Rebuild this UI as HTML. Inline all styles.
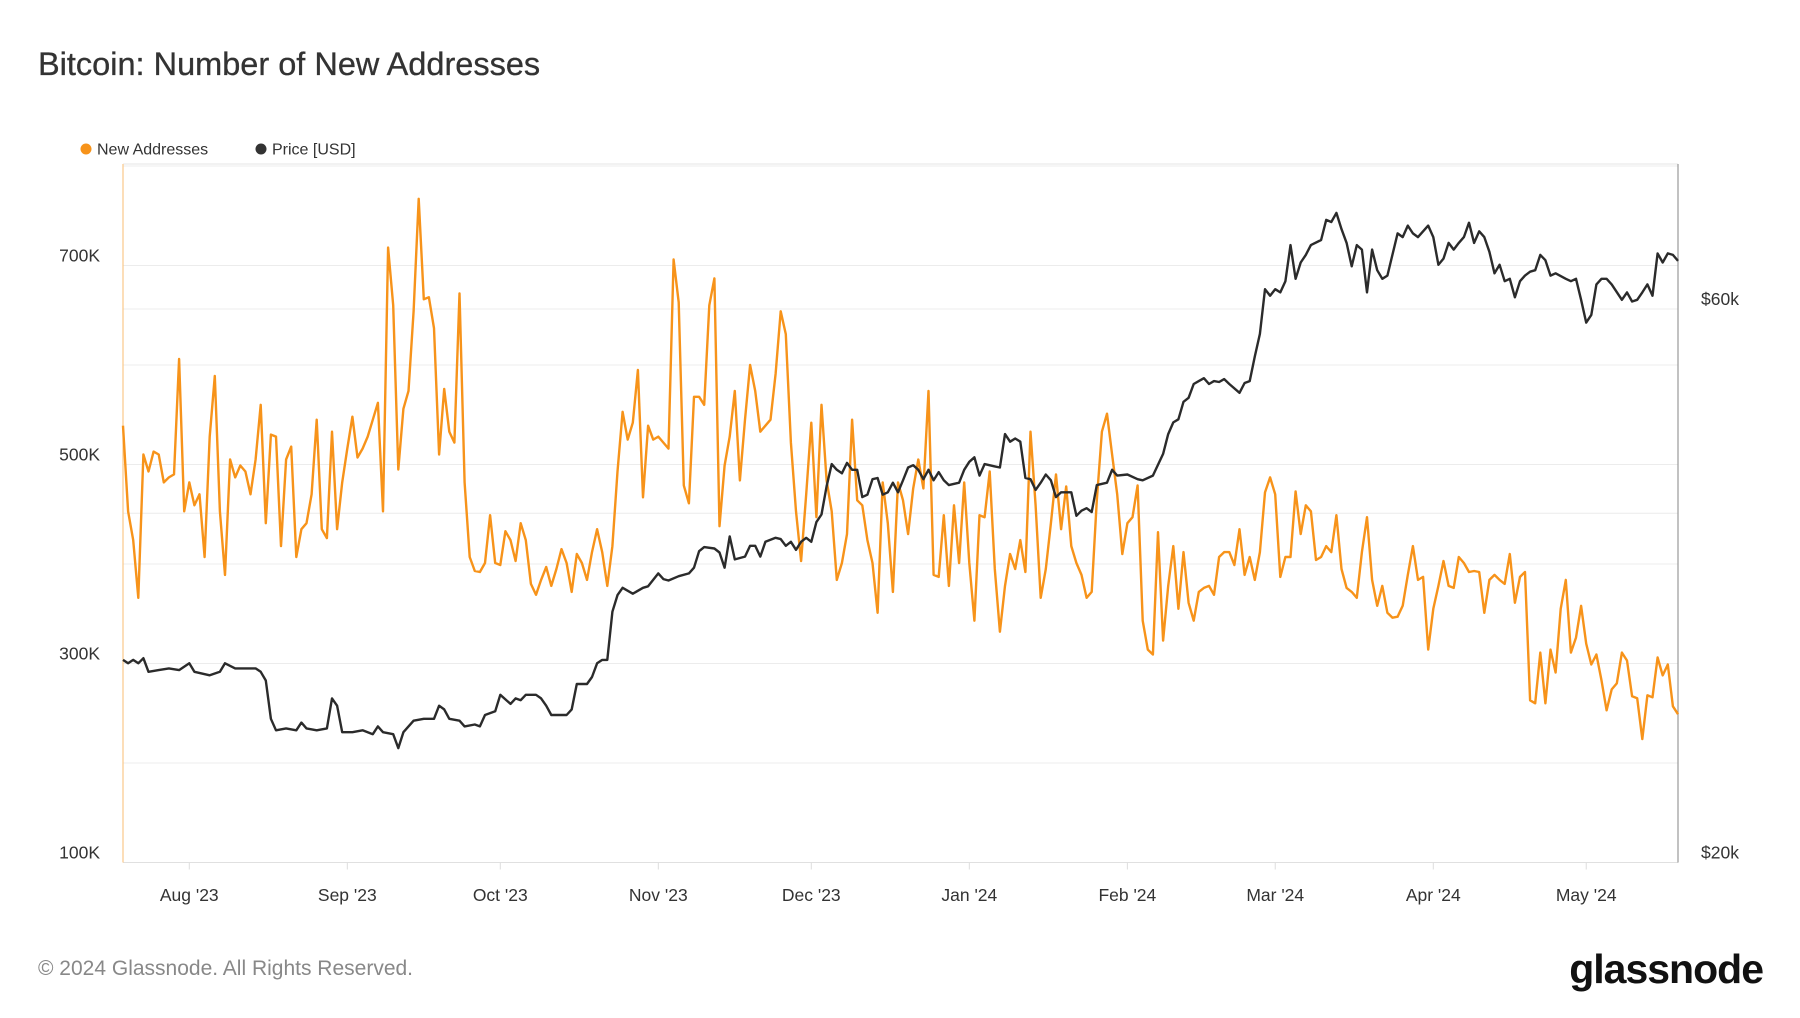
<!DOCTYPE html>
<html><head><meta charset="utf-8"><style>
html,body{margin:0;padding:0;background:#fff;}
body{width:1800px;height:1013px;overflow:hidden;font-family:"Liberation Sans",sans-serif;}
</style></head><body>
<svg id="chart" width="1800" height="1013" xmlns="http://www.w3.org/2000/svg" font-family="Liberation Sans, sans-serif">
<text x="38" y="75" font-size="32.5" fill="#333" stroke="#333" stroke-width="0.3">Bitcoin: Number of New Addresses</text>
<g>
<circle cx="86" cy="149" r="5.5" fill="#f7931a"/>
<text x="97" y="154.5" font-size="16" fill="#333">New Addresses</text>
<circle cx="261" cy="149" r="5.5" fill="#333"/>
<text x="272" y="154.5" font-size="16" fill="#333">Price [USD]</text>
</g>
<g id="grid"></g>
<g id="axes"></g>
<g id="series"></g>
<text x="38" y="975" font-size="21" fill="#888">© 2024 Glassnode. All Rights Reserved.</text>
<text x="1763" y="983" text-anchor="end" font-size="41" font-weight="bold" letter-spacing="-1" fill="#111">glassnode</text>
</svg>
<script>
const totalDays = 305;
const monthLabels = ["Aug '23","Sep '23","Oct '23","Nov '23","Dec '23","Jan '24","Feb '24","Mar '24","Apr '24","May '24"];
const monthDays = [13,44,74,105,135,166,197,226,257,287];
const leftTicks = [100,300,500,700];
const leftGrid = [100,200,300,400,500,600,700,800];
const rightTicks = [20,60];
const rightGrid = [40,60];
const newAddresses = [539,453,424,366,510,493,513,510,482,487,490,606,453,482,459,470,407,528,589,453,389,505,487,499,493,470,505,560,441,530,528,418,505,518,407,435,441,470,545,435,426,533,435,482,516,548,507,516,528,545,562,453,718,660,495,556,574,654,767,666,668,637,510,576,533,522,672,482,407,393,392,401,449,401,399,433,424,403,441,424,380,369,384,397,378,395,415,401,372,410,401,384,412,435,412,378,418,493,553,525,542,595,467,539,525,528,522,516,706,663,479,461,568,568,560,660,687,438,499,528,574,484,545,600,574,533,539,545,591,654,631,522,453,403,470,542,447,560,484,453,384,401,430,545,464,459,424,401,351,482,441,372,482,464,430,476,505,476,574,389,387,449,378,459,401,482,401,343,449,447,493,395,332,378,410,395,424,392,533,459,366,395,441,490,435,478,418,401,389,366,372,464,533,551,510,470,410,441,447,479,343,314,309,432,323,378,418,355,412,361,343,372,376,378,369,407,412,412,399,435,389,407,384,412,472,487,470,387,407,407,473,430,459,453,404,407,418,412,449,395,376,372,366,412,447,384,358,378,351,346,347,358,389,418,384,387,314,355,378,403,378,376,407,401,392,393,392,351,384,389,384,380,410,361,387,392,263,260,311,260,314,291,355,384,311,326,358,320,299,309,283,253,274,280,311,303,267,265,224,268,266,306,288,299,257,249];
const priceDays = [0,1,2,3,4,5,7,9,11,13,14,17,19,20,22,24,26,27,28,29,30,32,34,35,36,38,40,41,42,43,45,47,49,50,51,53,54,55,57,59,61,62,63,64,66,67,69,70,71,73,74,76,77,78,79,81,82,83,84,85,87,88,89,91,92,93,94,95,96,97,98,100,102,103,105,106,107,109,111,112,113,114,116,117,118,119,120,122,123,124,125,126,128,129,130,131,132,133,134,135,136,137,138,139,140,141,142,143,144,145,146,147,148,149,150,151,152,153,154,155,156,157,158,159,160,161,162,164,165,166,167,168,169,171,172,173,174,175,176,177,178,179,180,181,182,183,184,186,187,188,189,190,191,193,194,195,197,199,200,202,204,205,206,207,208,209,210,211,212,213,214,215,216,217,219,220,221,222,223,224,225,226,227,228,229,230,231,232,233,235,236,237,238,239,240,241,242,243,244,245,246,247,248,250,251,252,253,254,256,257,258,259,260,261,262,263,264,265,266,267,268,269,270,271,272,273,274,275,276,277,278,279,280,281,283,284,285,286,287,288,289,290,291,292,294,295,296,297,298,299,300,301,302,303,304,305];
const priceValues = [29.9,29.7,29.9,29.7,30.0,29.2,29.3,29.4,29.3,29.7,29.2,29.0,29.2,29.7,29.4,29.4,29.4,29.2,28.7,26.6,26.0,26.1,26.0,26.4,26.1,26.0,26.1,27.7,27.3,25.9,25.9,26.0,25.8,26.2,25.9,25.8,25.1,25.9,26.5,26.6,26.6,27.3,27.1,26.6,26.5,26.2,26.3,26.2,26.8,27.0,27.9,27.4,27.7,27.6,27.9,27.9,27.7,27.3,26.8,26.8,26.8,27.1,28.5,28.5,28.9,29.7,29.9,29.9,32.9,34.0,34.5,34.1,34.5,34.6,35.5,35.1,35.0,35.3,35.5,35.9,37.1,37.4,37.3,37.0,35.9,38.2,36.5,36.7,37.5,37.5,36.7,37.8,38.1,38.0,37.5,37.8,37.2,37.8,38.1,37.8,39.3,39.9,42.2,44.1,43.6,43.3,44.2,43.6,43.6,41.3,41.5,42.8,42.9,41.5,41.7,42.5,41.7,42.7,43.8,44.0,43.6,42.8,43.6,42.7,43.4,42.7,42.3,42.5,43.6,44.3,44.7,43.1,44.1,43.9,43.8,46.8,46.1,46.4,46.1,42.9,42.8,41.9,42.5,43.2,42.7,41.3,41.7,41.7,39.8,40.2,40.4,40.1,42.3,42.5,43.6,43.1,43.2,42.8,42.7,43.1,45.0,46.8,47.9,48.2,49.9,50.3,51.7,52.0,52.3,51.7,52.0,51.9,52.2,51.7,50.8,51.8,52.0,54.6,57.1,62.4,61.6,62.4,62.0,63.4,68.1,63.7,65.8,66.8,68.1,68.8,71.6,71.3,72.6,70.3,68.4,65.3,68.1,67.5,62.0,67.5,64.8,63.7,64.1,69.7,69.2,70.8,69.7,69.2,70.8,69.2,65.5,66.3,68.4,67.5,68.4,69.2,71.2,68.4,70.0,69.2,67.2,64.4,65.5,63.4,63.7,61.4,63.4,64.1,64.6,64.8,66.8,66.1,64.1,64.4,63.7,63.4,63.7,61.1,58.4,59.3,63.0,63.7,63.7,63.0,61.1,62.0,60.9,61.1,62.0,63.0,61.6,67.0,65.8,67.0,66.8,66.0];

const L=123,R=1678,T=164,B=862.5;
const xScale=d=>L+(d/totalDays)*(R-L);
const yLeft=v=>B-(v-100)/(802-100)*(B-T);
const yRight=p=>B-Math.log(p/20)/Math.log(80/20)*(B-T);
const NS="http://www.w3.org/2000/svg";
function mk(tag,attrs,parent){const e=document.createElementNS(NS,tag);for(const k in attrs)e.setAttribute(k,attrs[k]);parent.appendChild(e);return e;}
const gridG=document.getElementById('grid'),axesG=document.getElementById('axes'),seriesG=document.getElementById('series');

leftGrid.forEach(v=>{const l=mk('line',{x1:L,x2:R,y1:yLeft(v),y2:yLeft(v),stroke:'#ececec','stroke-width':1},gridG);

});
rightGrid.forEach(v=>{const l=mk('line',{x1:L,x2:R,y1:yRight(v),y2:yRight(v),stroke:'#ececec','stroke-width':1},gridG);

});
const topBorder=mk('line',{x1:L,x2:R,y1:T,y2:T,stroke:'#e6e6e6'},axesG);


const botAxis=mk('line',{x1:L,x2:R,y1:B,y2:B,stroke:'#e0e0e0'},axesG);


const leftAxis=mk('line',{x1:L,x2:L,y1:T,y2:B,stroke:'#fbc98a','stroke-width':1.2},axesG);


const rightAxis=mk('line',{x1:R,x2:R,y1:T,y2:B,stroke:'#999','stroke-width':1.2},axesG);



leftTicks.forEach(v=>{const t=mk('text',{x:100,y:yLeft(v)-4,'text-anchor':'end','font-size':17.5,fill:'#333'},axesG);t.textContent=v+'K';

});
rightTicks.forEach(v=>{const t=mk('text',{x:1701,y:yRight(v)-4,'font-size':17.5,fill:'#333'},axesG);t.textContent='$'+v+'k';

});
monthDays.forEach((d,i)=>{const x=xScale(d);
const tk=mk('line',{x1:x,x2:x,y1:B,y2:B+7,stroke:'#ddd'},axesG);


const t=mk('text',{x:x,y:901,'text-anchor':'middle','font-size':17.5,fill:'#333'},axesG);t.textContent=monthLabels[i];

});

const n=newAddresses.length;
const op=newAddresses.map((v,i)=>(i?'L':'M')+xScale(i*totalDays/(n-1)).toFixed(1)+','+yLeft(v).toFixed(1)).join('');
const orange=mk('path',{d:op,fill:'none',stroke:'#f7931a','stroke-width':2.4,'stroke-linejoin':'round'},seriesG);


const pp=priceValues.map((v,i)=>(i?'L':'M')+xScale(priceDays[i]).toFixed(1)+','+yRight(v).toFixed(1)).join('');
const black=mk('path',{d:pp,fill:'none',stroke:'#2b2b2b','stroke-width':2.4,'stroke-linejoin':'round'},seriesG);


</script>
</body></html>
